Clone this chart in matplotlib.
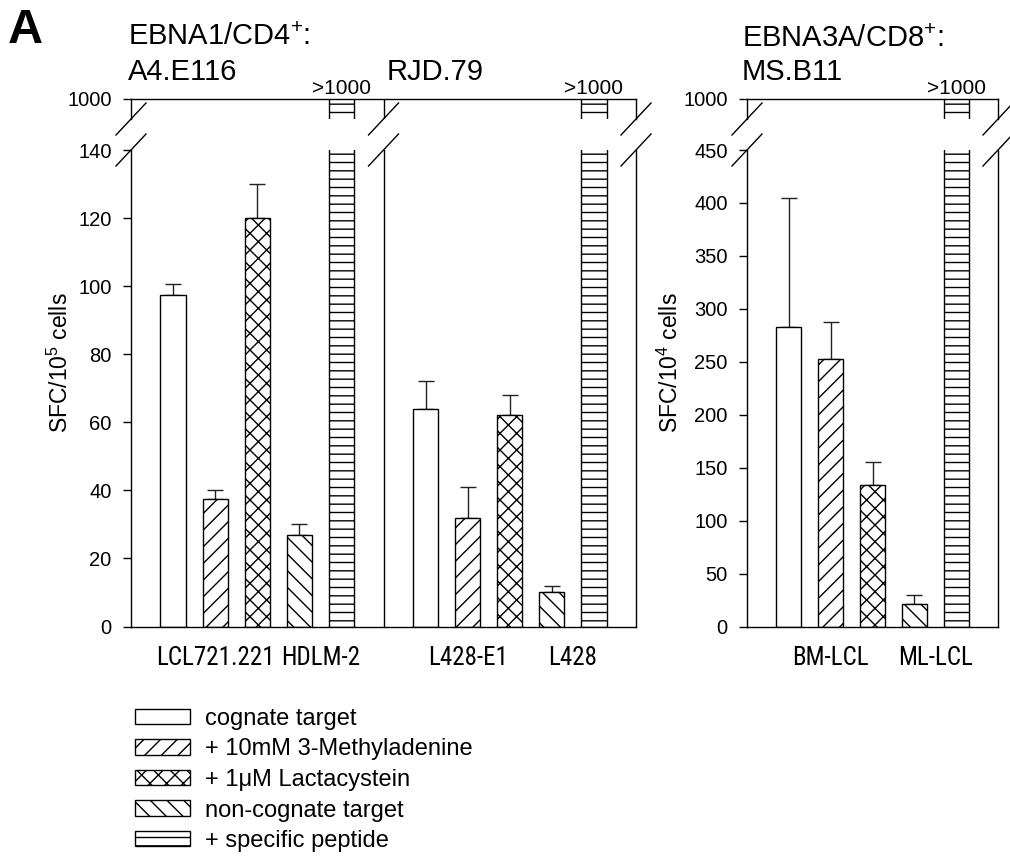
import matplotlib
matplotlib.use("Agg")
import matplotlib.pyplot as plt
from matplotlib.patches import Patch
from matplotlib import font_manager as fm

plt.rcParams['font.family'] = ['Liberation Sans', 'DejaVu Sans']
plt.rcParams['mathtext.fontset'] = 'custom'
plt.rcParams['mathtext.rm'] = 'Liberation Sans'
plt.rcParams['mathtext.default'] = 'regular'
plt.rcParams['hatch.color'] = 'black'
plt.rcParams['hatch.linewidth'] = 1.0

# look for a condensed sans font (Arial Narrow look-alike)
narrow_path = None
prefs = ['Liberation Sans Narrow', 'Roboto', 'Open Sans', 'Noto Sans', 'Lato', 'Inter', 'DejaVu Sans']
cands = []
for f in fm.fontManager.ttflist:
    st = str(f.stretch).lower()
    is_cond = ('condensed' in st) or ('narrow' in f.name.lower()) or ('condensed' in f.name.lower()) \
        or ('condensed' in f.fname.lower()) or ('narrow' in f.fname.lower())
    if is_cond and f.style == 'normal' and f.weight in (400, 'normal', 'regular') and 'extra' not in st \
            and 'ultra' not in st and 'semi' not in st and 'mono' not in f.fname.lower():
        rank = len(prefs)
        for i, p in enumerate(prefs):
            if f.name.lower().startswith(p.lower()):
                rank = i
                break
        cands.append((rank, f.fname))
cands.sort()
if cands:
    narrow_path = cands[0][1]

# ---------------- data ----------------
conditions = ['cognate target', '+ 10mM 3-Methyladenine', '+ 1μM Lactacystein',
              'non-cognate target', '+ specific peptide']
hatches = ['', '//', 'xx', '\\\\', '--']

a4_vals = [97.5, 37.5, 120, 27, 1500]
a4_err = [3, 2.5, 10, 3, 0]
rjd_vals = [64, 32, 62, 10, 1500]
rjd_err = [8, 9, 6, 2, 0]
msb_vals = [283, 253, 134, 21, 1500]
msb_err = [122, 35, 21, 9, 0]

left_xlabels = ['LCL721.221', 'HDLM-2', 'L428-E1', 'L428']
left_xlabel_pos = [2, 4.5, 8, 10.5]
right_xlabels = ['BM-LCL', 'ML-LCL']
right_xlabel_pos = [2, 4.5]

left_yticks = [0, 20, 40, 60, 80, 100, 120, 140]
right_yticks = [0, 50, 100, 150, 200, 250, 300, 350, 400, 450]

W, H = 1010, 859
fig = plt.figure(figsize=(W / 100, H / 100), dpi=100)

def fx(px):
    return px / W

def fy(py):
    return 1 - py / H

y_base, y_lowtop, y_uptop, y_upbot = 626.5, 150, 99, 119
TICKFS = 14.5
XFS = 18

def xfont():
    if narrow_path:
        return fm.FontProperties(fname=narrow_path, size=XFS)
    return fm.FontProperties(family='Liberation Sans', size=15.5)

def make_panel(x0, x1, xmax, groups, ylow, yticks, ylabel, xlabels, xpos, seps):
    axb = fig.add_axes([fx(x0), fy(y_base), fx(x1 - x0), (y_base - y_lowtop) / H])
    axt = fig.add_axes([fx(x0), fy(y_upbot), fx(x1 - x0), (y_upbot - y_uptop) / H], sharex=axb)
    for ax in (axb, axt):
        for g0, vals, errs in groups:
            pos = [g0 + i for i in range(len(vals))]
            for p, v, e, h in zip(pos, vals, errs, hatches):
                ax.bar(p, v, width=0.6, color='white', edgecolor='black',
                       linewidth=1.0, hatch=h, zorder=2)
                if e > 0:
                    ax.errorbar(p, v, yerr=[[0], [e]], fmt='none', ecolor='#222222',
                                elinewidth=1.0, capsize=5.5, capthick=1.0, zorder=1)
        for s in seps:
            ax.axvline(s, color='black', lw=1.0, zorder=3)
        ax.set_xlim(0, xmax)
        ax.tick_params(axis='y', direction='out', length=6, width=1.0,
                       labelsize=TICKFS, pad=8)
        for sp in ax.spines.values():
            sp.set_linewidth(1.0)
    axb.set_ylim(0, ylow)
    axb.set_yticks(yticks)
    axb.spines['top'].set_visible(False)
    axb.set_xticks(xpos)
    axb.set_xticklabels(xlabels)
    for t in axb.get_xticklabels():
        t.set_fontproperties(xfont())
    axb.tick_params(axis='x', length=0, pad=14)
    axt.set_ylim(990, 1000)
    axt.set_yticks([1000])
    axt.spines['bottom'].set_visible(False)
    axt.tick_params(axis='x', length=0, labelbottom=False)
    axb.set_ylabel(ylabel, fontsize=16.5)
    for g0, vals, errs in groups:
        axt.text(g0 + 4, 1000.6, '>1000', ha='center', va='bottom', fontsize=15)
    wpx = x1 - x0
    dx = 15 / wpx
    for xa in [0, 1] + [s / xmax for s in seps]:
        for ax, yc, hpx in ((axt, 0, y_upbot - y_uptop), (axb, 1, y_base - y_lowtop)):
            dy = 16 / hpx
            ax.plot([xa - dx, xa + dx], [yc - dy, yc + dy], transform=ax.transAxes,
                    color='black', lw=1.0, clip_on=False, zorder=4)
    return axb, axt

axb1, axt1 = make_panel(131, 636, 12, [(1, a4_vals, a4_err), (7, rjd_vals, rjd_err)],
                        140, left_yticks, r'SFC/10$^{5}$ cells',
                        left_xlabels, left_xlabel_pos, [6])
axb2, axt2 = make_panel(747, 998, 6, [(1, msb_vals, msb_err)],
                        450, right_yticks, r'SFC/10$^{4}$ cells',
                        right_xlabels, right_xlabel_pos, [])
lab_y = (626.5 - 363) / (626.5 - 150)
axb1.yaxis.set_label_coords((73 - 131) / (636 - 131), lab_y)
axb2.yaxis.set_label_coords((683 - 747) / (998 - 747), lab_y)

TFS = 21
fig.text(fx(8), fy(43), 'A', fontsize=35, fontweight='bold', ha='left', va='baseline')
fig.text(fx(128), fy(45), 'EBNA1/CD4$^{+}$:', fontsize=TFS, ha='left', va='baseline')
fig.text(fx(128), fy(80), 'A4.E116', fontsize=TFS, ha='left', va='baseline')
fig.text(fx(387), fy(80), 'RJD.79', fontsize=TFS, ha='left', va='baseline')
fig.text(fx(742), fy(47), 'EBNA3A/CD8$^{+}$:', fontsize=TFS, ha='left', va='baseline')
fig.text(fx(742), fy(80), 'MS.B11', fontsize=TFS, ha='left', va='baseline')

handles = [Patch(facecolor='white', edgecolor='black', hatch=h, linewidth=1.0) for h in hatches]
LFS = 17
fig.legend(handles, conditions, loc='upper left', bbox_to_anchor=(fx(135), fy(708)),
           frameon=False, fontsize=LFS, borderpad=0, borderaxespad=0,
           handlelength=55 / (LFS * 100 / 72), handleheight=15 / (LFS * 100 / 72),
           handletextpad=15 / (LFS * 100 / 72), labelspacing=0.36)

fig.savefig('out.png', dpi=100)
